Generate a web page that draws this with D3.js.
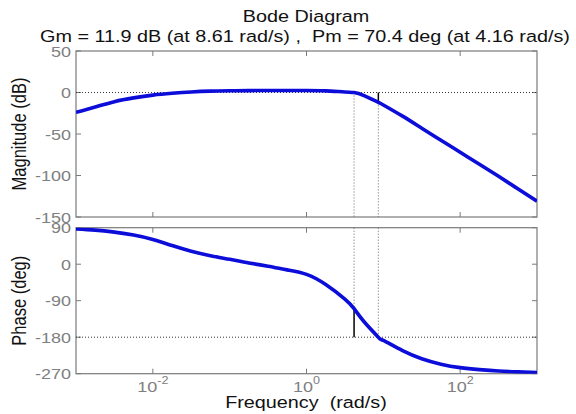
<!DOCTYPE html>
<html><head><meta charset="utf-8">
<script src="https://cdn.jsdelivr.net/npm/d3@7"></script>
<style>body{margin:0;background:#fff}svg{display:block}text{white-space:pre}</style>
</head><body><svg id="c" width="576" height="414"></svg>
<script>
// ---- data ----
const freqs = [0.001, 0.00178, 0.00316, 0.00562, 0.01, 0.0178, 0.0316, 0.0562, 0.1, 0.178, 0.316, 0.562, 1, 1.78, 3.16, 4.16, 5.62, 8.61, 10, 17.8, 31.6, 56.2, 100, 178, 316, 562, 1000];
const magnitudeDb = [-24, -17.5, -11, -6.5, -3.2, -1.0, 0.6, 1.6, 2.1, 2.3, 2.4, 2.4, 2.4, 2.0, 0.6, 0, -3.8, -11.9, -15, -28.5, -43, -57.5, -72, -86.5, -101, -116, -131];
const phaseDeg = [87, 84, 79, 72, 61, 46, 32, 21, 12, 3, -5, -14, -25, -50, -86, -109.6, -142, -180, -188, -213, -233, -246.5, -255, -260, -263.5, -265.5, -267];
const magTicks = [50, 0, -50, -100, -150];
const phaseTicks = [90, 0, -90, -180, -270];
const freqTicks = [0.01, 1, 100];
const freqTickExponents = ["-2", "0", "2"];
const marginNames = ["Gm", "Pm"];
const marginFreqs = [8.61, 4.16];      // rad/s
const marginValues = [11.9, 70.4];     // dB, deg
const titleText = "Bode Diagram";
const subtitleText = "Gm = 11.9 dB (at 8.61 rad/s) ,  Pm = 70.4 deg (at 4.16 rad/s)";
const xLabel = "Frequency  (rad/s)";
const magLabel = "Magnitude (dB)";
const phaseLabel = "Phase (deg)";

// ---- layout ----
const svg = d3.select("#c");
const L = 76, R = 537;
const x = d3.scaleLog().domain([1e-3, 1e3]).range([L, R]);
const yMag = d3.scaleLinear().domain([-150, 50]).range([217, 51]);
const yPh = d3.scaleLinear().domain([-270, 90]).range([373.7, 227.7]);
const SX = 1.2;
const frameCol = "#7a7a7a", tickCol = "#808080", textCol = "#111";
const curveCol = "#0d0dda";
const FONT = "'Liberation Sans', Arial, Helvetica, sans-serif";

function txt(px, py, s, size, anchor, color, rot) {
  return svg.append("text")
    .attr("transform", `translate(${px},${py}) scale(${SX},1)` + (rot ? ` rotate(${rot})` : ""))
    .attr("font-family", FONT).attr("font-size", size)
    .attr("text-anchor", anchor).attr("fill", color).text(s);
}

txt(306, 22, titleText, 16.5, "middle", textCol);
txt(305, 42, subtitleText, 16.5, "middle", textCol);

const magPts = freqs.map((f, i) => [f, magnitudeDb[i]]);
const phPts = freqs.map((f, i) => [f, phaseDeg[i]]);

function panel(y, ticks, id) {
  const [y0, y1] = y.range();
  const top = Math.min(y0, y1), bot = Math.max(y0, y1);
  svg.append("clipPath").attr("id", id).append("rect")
    .attr("x", L).attr("y", top).attr("width", R - L).attr("height", bot - top);
  const g = svg.append("g");
  ticks.forEach(t => {
    const yy = y(t);
    g.append("line").attr("x1", L).attr("x2", L + 5).attr("y1", yy).attr("y2", yy).attr("stroke", frameCol);
    g.append("line").attr("x1", R - 5).attr("x2", R).attr("y1", yy).attr("y2", yy).attr("stroke", frameCol);
    txt(71, yy + 5.5, String(t), 15, "end", tickCol);
  });
  freqTicks.forEach(f => {
    const xx = x(f);
    g.append("line").attr("x1", xx).attr("x2", xx).attr("y1", top).attr("y2", top + 5).attr("stroke", frameCol);
    g.append("line").attr("x1", xx).attr("x2", xx).attr("y1", bot - 5).attr("y2", bot).attr("stroke", frameCol);
  });
  g.append("rect").attr("x", L).attr("y", top).attr("width", R - L).attr("height", bot - top)
    .attr("fill", "none").attr("stroke", frameCol).attr("stroke-width", 1.2);
  return { g, top, bot };
}

const dot = { "stroke": "#333", "stroke-width": 1, "stroke-dasharray": "1,2" };
const vdot = { ...dot, stroke: "#666" };
const solid = { stroke: "#000", "stroke-width": 1.5 };
function dline(g, x1, y1, x2, y2, style) {
  const l = g.append("line").attr("x1", x1).attr("y1", y1).attr("x2", x2).attr("y2", y2);
  Object.entries(style).forEach(([k, v]) => l.attr(k, v));
  return l;
}
const curve = d3.curveNatural;

// Magnitude panel
const pm = panel(yMag, magTicks, "clipM");
dline(pm.g, L, yMag(0), R, yMag(0), dot);
dline(pm.g, x(marginFreqs[1]), yMag(0), x(marginFreqs[1]), pm.bot, vdot);
dline(pm.g, x(marginFreqs[0]), yMag(-marginValues[0]), x(marginFreqs[0]), pm.bot, vdot);
dline(pm.g, x(marginFreqs[0]), yMag(0), x(marginFreqs[0]), yMag(-marginValues[0]), solid);
const lineM = d3.line().x(d => x(d[0])).y(d => yMag(d[1])).curve(curve);
pm.g.append("path").attr("d", lineM(magPts)).attr("fill", "none").attr("stroke", curveCol)
  .attr("stroke-width", 3.6).attr("stroke-linejoin", "round").attr("clip-path", "url(#clipM)");

// Phase panel
const pp = panel(yPh, phaseTicks, "clipP");
dline(pp.g, L, yPh(-180), R, yPh(-180), dot);
dline(pp.g, x(marginFreqs[1]), pp.top, x(marginFreqs[1]), yPh(-180 + marginValues[1]), vdot);
dline(pp.g, x(marginFreqs[0]), pp.top, x(marginFreqs[0]), yPh(-180), vdot);
dline(pp.g, x(marginFreqs[1]), yPh(-180), x(marginFreqs[1]), yPh(-180 + marginValues[1]), solid);
const lineP = d3.line().x(d => x(d[0])).y(d => yPh(d[1])).curve(curve);
pp.g.append("path").attr("d", lineP(phPts)).attr("fill", "none").attr("stroke", curveCol)
  .attr("stroke-width", 3.6).attr("stroke-linejoin", "round").attr("clip-path", "url(#clipP)");

// x tick labels 10^n
freqTicks.forEach((f, i) => {
  const t = svg.append("text")
    .attr("transform", `translate(${x(f)},392) scale(${SX},1)`)
    .attr("font-family", FONT).attr("font-size", 15).attr("text-anchor", "middle").attr("fill", tickCol);
  t.append("tspan").text("10");
  t.append("tspan").attr("font-size", 10.5).attr("dy", -8).text(freqTickExponents[i]);
});

// axis labels
txt(306, 408, xLabel, 16.5, "middle", textCol);
txt(26, (yMag.range()[0] + yMag.range()[1]) / 2, magLabel, 16.5, "middle", textCol, -90);
txt(26, (yPh.range()[0] + yPh.range()[1]) / 2, phaseLabel, 16.5, "middle", textCol, -90);
</script></body></html>
